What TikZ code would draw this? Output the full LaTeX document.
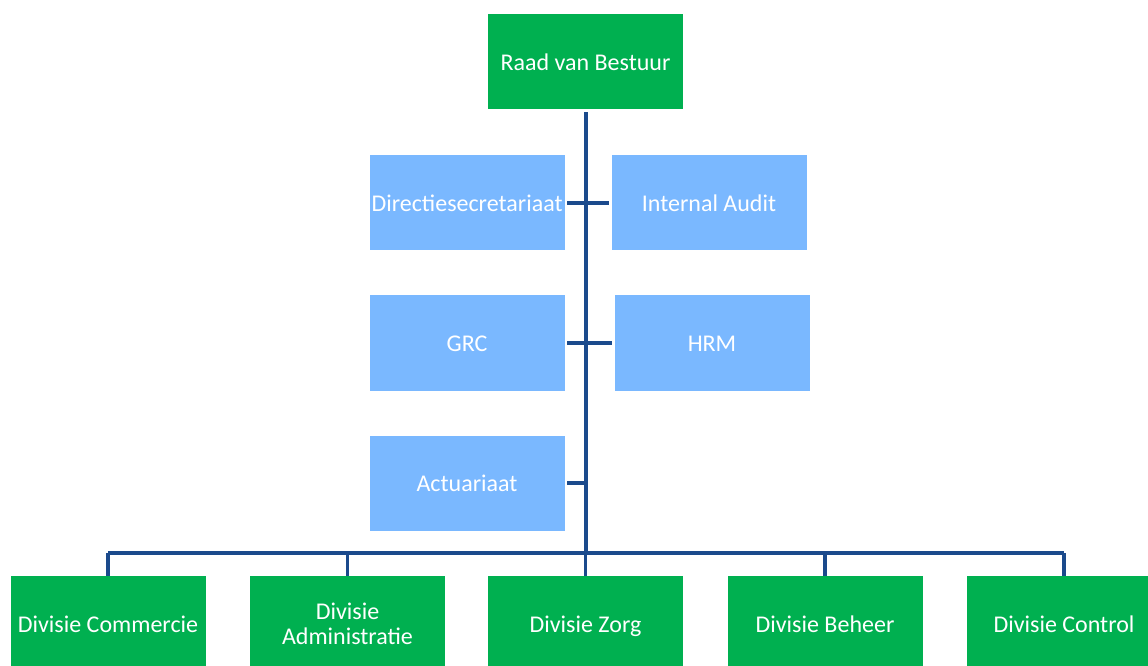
\documentclass[tikz,border=0pt]{standalone}
\usepackage{fontspec}
\setmainfont{Carlito}
\definecolor{boxgreen}{HTML}{00B050}
\definecolor{boxblue}{HTML}{7AB8FF}
\definecolor{linkblue}{HTML}{1B4A8C}
\begin{document}
\begin{tikzpicture}[x=0.75pt,y=-0.75pt,
  box/.style={draw=none,minimum width=146.25pt,minimum height=71.25pt,inner sep=0pt,
    text height=13.4pt,text depth=0.6pt,
    text=white,align=center,font=\fontsize{18pt}{18.75pt}\selectfont},
  gbox/.style={box,fill=boxgreen},
  bbox/.style={box,fill=boxblue},
  twoline/.style={text height=,text depth=},
  link/.style={draw=linkblue,line width=2.5pt}]
\useasboundingbox (0,0) rectangle (1148,666);
\clip (0,0) rectangle (1148,666);
\node[gbox] (rvb) at (585.5,61.5) {Raad van Bestuur};
\node[bbox] (dir) at (467,203) {Directiesecretariaat};
\node[bbox] (ia) at (709,203) {Internal Audit};
\node[bbox] (grc) at (467,343) {GRC};
\node[bbox] (hrm) at (712,343) {HRM};
\node[bbox] (act) at (467,483) {Actuariaat};
\node[gbox] (dc) at (108,623.5) {Divisie Commercie};
\node[gbox,twoline] (da) at (347.5,623.5) {Divisie\\Administratie};
\node[gbox] (dz) at (585.5,623.5) {Divisie Zorg};
\node[gbox] (db) at (825,623.5) {Divisie Beheer};
\node[gbox] (dco) at (1064,623.5) {Divisie Control};
\coordinate (bus) at (586,553);
\coordinate (busL) at (108,553);
\coordinate (busR) at (1064,553);
\draw[link] (rvb.south -| bus) ++(0,3) -- (bus);
\draw[link] (busL) -- (busR);
\foreach \n in {dc,da,dz,db,dco} \draw[link] (\n.north |- bus) -- (\n.north);
\draw[link,shorten <=2pt,shorten >=2pt] (dir.east) -- (ia.west);
\draw[link,shorten <=2pt,shorten >=2pt] (grc.east) -- (hrm.west);
\draw[link,shorten <=2pt] (act.east) -- (act.east -| bus);
\end{tikzpicture}
\end{document}
